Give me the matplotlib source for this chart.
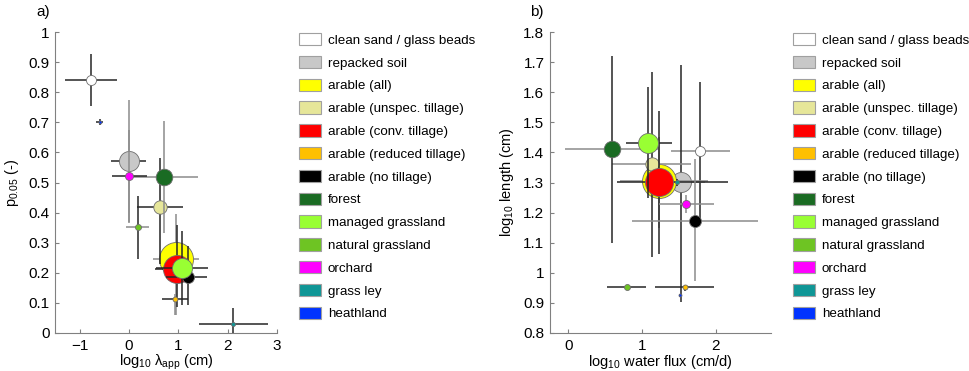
import numpy as np
import matplotlib
matplotlib.use("Agg")
import matplotlib.pyplot as plt
from matplotlib.patches import Patch

plt.rcParams['font.family'] = ['Liberation Sans', 'DejaVu Sans']
plt.rcParams['mathtext.fontset'] = 'custom'
plt.rcParams['mathtext.rm'] = 'Liberation Sans'
plt.rcParams['mathtext.it'] = 'Liberation Sans:italic'

categories = ['clean sand / glass beads', 'repacked soil', 'arable (all)',
              'arable (unspec. tillage)', 'arable (conv. tillage)',
              'arable (reduced tillage)', 'arable (no tillage)', 'forest',
              'managed grassland', 'natural grassland', 'orchard', 'grass ley',
              'heathland']
colors = ['#ffffff', '#c8c8c8', '#ffff00', '#e6e699', '#ff0000', '#ffc000',
          '#000000', '#1a6b23', '#99ff33', '#6ec423', '#ff00ff', '#0f9696',
          '#0033ff']
# marker radius (px), grows with number of data sets per class
radius = [5, 10, 17, 6.7, 14, 2.5, 6, 8.3, 10, 3, 4, 2, 1.5]

# a) p0.05 vs log10 lambda_app
a_x = [-0.77, -0.01, 0.95, 0.62, 0.98, 0.93, 1.20, 0.70, 1.07, 0.18, 0.01, 2.10, -0.59]
a_y = [0.84, 0.571, 0.245, 0.417, 0.213, 0.114, 0.187, 0.517, 0.215, 0.352, 0.523, 0.029, 0.70]
a_xlo = [-1.30, -0.37, 0.49, 0.16, 0.52, 0.67, 0.76, 0.08, 0.55, -0.06, -0.35, 1.41, -0.66]
a_xhi = [-0.24, 0.34, 1.41, 1.09, 1.20, 1.20, 1.59, 1.39, 1.60, 0.41, 0.36, 2.81, -0.52]
a_ylo = [0.754, 0.366, 0.06, 0.23, 0.087, 0.06, 0.093, 0.332, 0.093, 0.245, 0.37, 0.0, 0.69]
a_yhi = [0.927, 0.774, 0.395, 0.582, 0.359, 0.13, 0.289, 0.705, 0.339, 0.455, 0.674, 0.084, 0.71]

# b) log10 length vs log10 water flux
b_x = [1.79, 1.527, 1.225, 1.13, 1.235, 1.58, 1.72, 0.585, 1.085, 0.79, 1.60, 1.48, 1.52]
b_y = [1.405, 1.30, 1.306, 1.361, 1.303, 0.952, 1.173, 1.411, 1.430, 0.952, 1.229, 1.30, 0.926]
b_xlo = [1.39, 1.20, 0.70, 0.595, 0.655, 1.18, 0.865, -0.05, 0.775, 0.53, 1.235, 1.45, 1.50]
b_xhi = [2.19, 1.85, 1.90, 1.66, 2.17, 1.98, 2.57, 1.21, 1.40, 1.05, 1.98, 1.51, 1.54]
b_ylo = [1.18, 0.904, 1.15, 1.053, 1.061, 0.94, 0.973, 1.10, 1.25, 0.945, 1.20, 1.29, 0.92]
b_yhi = [1.635, 1.69, 1.45, 1.666, 1.539, 0.96, 1.378, 1.721, 1.616, 0.96, 1.26, 1.31, 0.93]

dk = '#262626'
gr = '#8c8c8c'
a_xcol = [dk, dk, gr, dk, dk, dk, dk, gr, dk, gr, dk, dk, dk]
a_ycol = [dk, gr, gr, dk, dk, gr, dk, gr, dk, dk, gr, dk, dk]
b_xcol = [gr, gr, gr, gr, dk, dk, gr, gr, dk, dk, gr, dk, dk]
b_ycol = [dk, dk, gr, dk, dk, dk, gr, dk, dk, dk, gr, dk, dk]


def draw(ax, x, y, xlo, xhi, ylo, yhi, xcol, ycol):
    z = 2
    for i in range(len(x)):
        ax.errorbar(x[i], y[i], xerr=[[x[i] - xlo[i]], [xhi[i] - x[i]]],
                    fmt='none', ecolor=xcol[i], elinewidth=1.1, capsize=0, zorder=z)
        ax.errorbar(x[i], y[i], yerr=[[y[i] - ylo[i]], [yhi[i] - y[i]]],
                    fmt='none', ecolor=ycol[i], elinewidth=1.1, capsize=0, zorder=z)
        ax.plot(x[i], y[i], 'o', ms=radius[i] * 1.44, mfc=colors[i],
                mec='#6e6e6e', mew=0.6, zorder=z + 1)
        z += 2


def style(ax):
    for s in ['top', 'right']:
        ax.spines[s].set_visible(False)
    for s in ['left', 'bottom']:
        ax.spines[s].set_color('#808080')
        ax.spines[s].set_linewidth(0.8)
    ax.tick_params(direction='in', length=3, width=0.8, color='#808080',
                   labelsize=11, labelcolor='black', pad=4)


fig = plt.figure(figsize=(9.7, 3.71), dpi=100)

ax1 = fig.add_axes([55 / 970, 1 - 333 / 371, 222 / 970, 301 / 371])
draw(ax1, a_x, a_y, a_xlo, a_xhi, a_ylo, a_yhi, a_xcol, a_ycol)
ax1.set_xlim(-1.5, 3)
ax1.set_ylim(0, 1)
ax1.set_xticks([-1, 0, 1, 2, 3])
ax1.set_yticks(np.arange(0, 1.01, 0.1))
ax1.set_yticklabels(['0', '0.1', '0.2', '0.3', '0.4', '0.5', '0.6', '0.7', '0.8', '0.9', '1'])
ax1.set_xlabel(r'$\mathregular{log_{10}\ \lambda_{app}\ (cm)}$', fontsize=10.5, labelpad=0)
ax1.set_ylabel(r'p$\mathregular{_{0.05}}$ (-)', fontsize=10.5, labelpad=5)
style(ax1)
fig.text(43 / 970, 1 - 12 / 371, 'a)', fontsize=11, ha='center', va='center')

ax2 = fig.add_axes([550 / 970, 1 - 333 / 371, 221 / 970, 301 / 371])
draw(ax2, b_x, b_y, b_xlo, b_xhi, b_ylo, b_yhi, b_xcol, b_ycol)
ax2.set_xlim(-0.25, 2.75)
ax2.set_ylim(0.8, 1.8)
ax2.set_xticks([0, 1, 2])
ax2.set_yticks(np.arange(0.8, 1.81, 0.1))
ax2.set_yticklabels(['0.8', '0.9', '1', '1.1', '1.2', '1.3', '1.4', '1.5', '1.6', '1.7', '1.8'])
ax2.set_xlabel(r'$\mathregular{log_{10}\ water\ flux\ (cm/d)}$', fontsize=10.5, labelpad=0)
ax2.set_ylabel(r'$\mathregular{log_{10}\ length\ (cm)}$', fontsize=10.5, labelpad=5)
style(ax2)
fig.text(537 / 970, 1 - 12 / 371, 'b)', fontsize=11, ha='center', va='center')

handles = [Patch(facecolor=c, edgecolor='#a0a0a0', linewidth=0.8) for c in colors]
for left in [299, 793]:
    fig.legend(handles, categories, loc='upper left',
               bbox_to_anchor=(left / 970, 1 - 33 / 371), frameon=False,
               fontsize=9.6, handlelength=1.65, handleheight=1.05,
               handletextpad=0.5, labelspacing=0.68, borderpad=0,
               borderaxespad=0)

fig.savefig('out.png', dpi=100)
